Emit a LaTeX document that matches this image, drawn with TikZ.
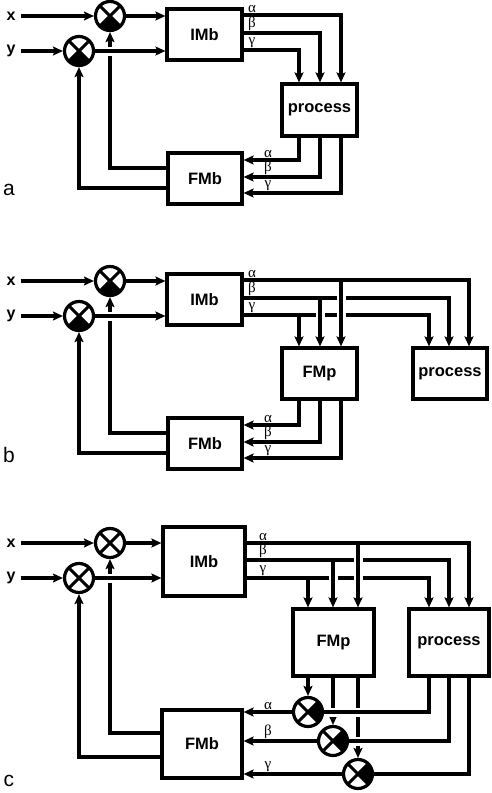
\documentclass[tikz,border=0pt]{standalone}
\usepackage{fontspec}
\setmainfont{Liberation Sans}
\newfontfamily\hyLap{Liberation Serif}
\usetikzlibrary{arrows.meta}

% dấu nhân: hai đường chéo
\newcommand{\dauX}{\draw[black, line width=3pt] (path picture bounding box.north west) -- (path picture bounding box.south east)
  (path picture bounding box.north east) -- (path picture bounding box.south west);}

\tikzset{
  khoi/.style={draw, line width=3.2pt, fill=white, inner sep=0pt, font=\bfseries\fontsize{16.5}{16.5}\selectfont},
  nhan0/.style={circle, draw, line width=3.2pt, minimum size=29pt, inner sep=0pt, fill=white},
  nhan/.style={nhan0, path picture={\dauX}},
  nhanS/.style={nhan0, path picture={\fill[black] (path picture bounding box.center) -- (path picture bounding box.south west)
      -- (path picture bounding box.south east) -- cycle; \dauX}},
  nhanE/.style={nhan0, path picture={\fill[black] (path picture bounding box.center) -- (path picture bounding box.south east)
      -- (path picture bounding box.north east) -- cycle; \dauX}},
  day/.style={line width=3.2pt},
  mui/.style={day, -{Stealth[length=10pt,width=9pt,inset=2pt]}},
  qua/.style={preaction={draw=white, arrows=-, line width=9pt, shorten <=4pt, shorten >=4pt}},
  chu/.style={inner sep=2pt, inner xsep=5pt, font=\bfseries\fontsize{16}{16}\selectfont},
  nho/.style={anchor=south, inner sep=1.8pt, font=\hyLap\fontsize{15}{15}\selectfont},
  tenhinh/.style={inner sep=0pt, font=\fontsize{21}{21}\selectfont},
}

\begin{document}
\begin{tikzpicture}[x=1pt,y=-1pt]
  \useasboundingbox (0,0) rectangle (492,793);

  % hình a và b: phần bên trái
  \foreach \p/\dy/\ten in {A/0/a,B/265/b} {
    \node[chu] (x\p) at (11,16+\dy) {x};
    \node[chu] (y\p) at (11,51+\dy) {y};
    \node[nhanS] (m\p1) at (110,16+\dy) {};
    \node[nhanS] (m\p2) at (79,51+\dy) {};
    \node[khoi, minimum width=75pt, minimum height=51pt] (imb\p) at (204.5,34.5+\dy) {IMb};
    \node[khoi, minimum width=74pt, minimum height=51pt] (fmb\p) at (205,178.5+\dy) {FMb};
    \node[tenhinh] (ten\p) at (9,190+\dy) {\ten};
    % hồi tiếp
    \draw[mui] (fmb\p.west |- 0,168+\dy) -| (m\p1);
    \draw[mui] (fmb\p.west |- 0,188+\dy) -| (m\p2);
    \draw[mui] (x\p.east |- m\p1) -- (m\p1);
    \draw[mui] (m\p1) -- (imb\p.west |- m\p1);
    \draw[mui] (y\p.east |- m\p2) -- (m\p2);
    \draw[mui, qua] (m\p2) -- (imb\p.west |- m\p2);
  }

  % hình a: process
  \node[khoi, minimum width=75pt, minimum height=52pt] (procA) at (319.5,110) {process};
  \foreach \r/\cx/\g in {15/341/α, 33/320/β, 50/299/γ} {
    \draw[mui] (imbA.east |- 0,\r) -| (procA.north -| \cx,0);
    \node[nho] (tA\cx) at (252,\r) {\g};
  }
  \foreach \cx/\r/\g in {299/160/α, 320/177/β, 341/193/γ} {
    \draw[mui] (procA.south -| \cx,0) |- (fmbA.east |- 0,\r);
    \node[nho] (bA\cx) at (268,\r) {\g};
  }

  % hình b: FMp và process
  \node[khoi, minimum width=75pt, minimum height=51pt] (fmpB) at (319.5,373.5) {FMp};
  \node[khoi, minimum width=74pt, minimum height=51pt] (procB) at (450,373.5) {process};
  \foreach \r/\cx/\t/\g in {280/469/341/α, 298/449/320/β, 315/429/299/γ} {
    \draw[mui] (imbB.east |- 0,\r) -| (procB.north -| \cx,0);
    \node[nho] (tB\t) at (252,\r) {\g};
  }
  \foreach \r/\t in {280/341, 298/320, 315/299} {
    \coordinate (rB\t) at (\t,\r);
    \draw[mui, qua] (rB\t) -- (rB\t |- fmpB.north);
  }
  \foreach \cx/\r/\g in {299/425/α, 320/442/β, 341/458/γ} {
    \draw[mui] (fmpB.south -| \cx,0) |- (fmbB.east |- 0,\r);
    \node[nho] (bB\cx) at (268,\r) {\g};
  }

  % hình c
  \node[chu] (xC) at (11,543) {x};
  \node[chu] (yC) at (11,578) {y};
  \node[nhan] (mC1) at (110,543) {};
  \node[nhan] (mC2) at (79,578) {};
  \node[khoi, minimum width=82pt, minimum height=69pt] (imbC) at (204,561.5) {IMb};
  \node[khoi, minimum width=80pt, minimum height=68pt] (fmbC) at (202,744) {FMb};
  \node[khoi, minimum width=81pt, minimum height=67pt] (fmpC) at (333.5,642.5) {FMp};
  \node[khoi, minimum width=80pt, minimum height=67pt] (procC) at (449,642.5) {process};
  \node[tenhinh] (tenC) at (9,781) {c};
  \draw[mui] (fmbC.west |- 0,733) -| (mC1);
  \draw[mui] (fmbC.west |- 0,757) -| (mC2);
  \draw[mui] (xC.east |- mC1) -- (mC1);
  \draw[mui] (mC1) -- (imbC.west |- mC1);
  \draw[mui] (yC.east |- mC2) -- (mC2);
  \draw[mui, qua] (mC2) -- (imbC.west |- mC2);
  \foreach \r/\cx/\t/\g in {543/469/358/α, 560/449/333/β, 578/429/308/γ} {
    \draw[mui] (imbC.east |- 0,\r) -| (procC.north -| \cx,0);
    \node[nho] (tC\t) at (263,\r) {\g};
  }
  \foreach \r/\t in {543/358, 560/333, 578/308} {
    \coordinate (rC\t) at (\t,\r);
    \draw[mui, qua] (rC\t) -- (rC\t |- fmpC.north);
  }
  % nhân ở đầu ra
  \foreach \cx/\r/\n in {308/712/1, 333/741/2, 358/774/3} {
    \node[nhanE] (mc\n) at (\cx,\r) {};
    \draw[mui] (fmpC.south -| mc\n) -- (mc\n);
  }
  \foreach \cx/\n in {429/1, 449/2, 469/3} {
    \draw[day, qua] (procC.south -| \cx,0) |- (mc\n);
  }
  \foreach \n/\r/\g in {1/712/α, 2/741/β, 3/774/γ} {
    \draw[mui] (mc\n) -- (fmbC.east |- mc\n);
    \node[nho] (bC\n) at (268,\r) {\g};
  }
\end{tikzpicture}
\end{document}
